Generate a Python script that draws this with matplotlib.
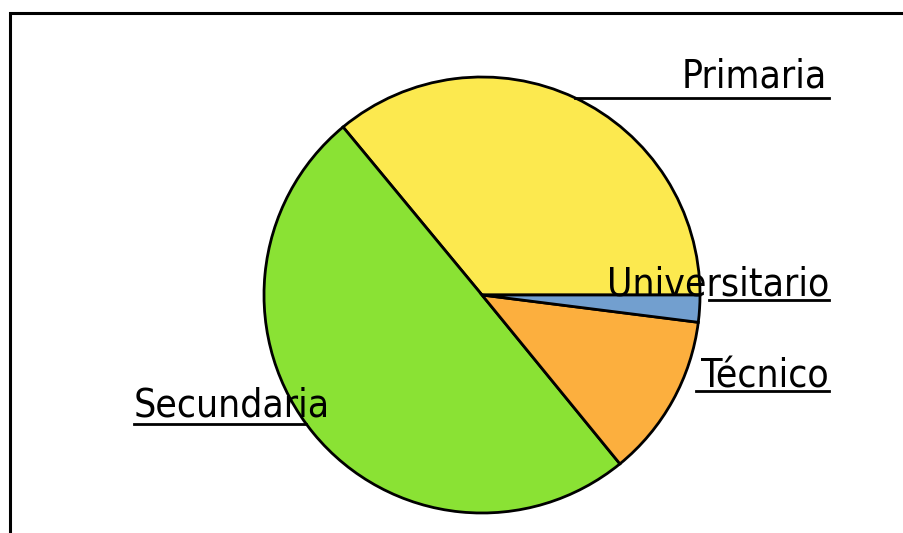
import matplotlib
matplotlib.use("Agg")
import matplotlib.pyplot as plt

labels = ["Primaria", "Secundaria", "Técnico", "Universitario"]
values = [36.0, 49.9, 12.1, 2.0]
colors = ["#FCE94F", "#8AE234", "#FCAF3E", "#729FCF"]

W, H = 904, 533
fig = plt.figure(figsize=(W / 100, H / 100), dpi=100)
ax = fig.add_axes([0, 0, 1, 1])
ax.set_xlim(0, W)
ax.set_ylim(0, H)
ax.set_aspect("equal")
ax.axis("off")

def Y(py):
    return H - py

# outer frame (extends beyond right/bottom)
ax.plot([10.5, 10.5, W + 5], [-5, Y(12.5), Y(12.5)], color="black", lw=2.2,
        solid_joinstyle="miter", zorder=1)

ax.pie(values, colors=colors, startangle=0, counterclock=True,
       center=(482, Y(295)), radius=218, frame=True,
       wedgeprops=dict(edgecolor="black", linewidth=2.0))
ax.set_xlim(0, W)
ax.set_ylim(0, H)
ax.axis("off")

font = dict(family="DejaVu Sans", fontstretch="condensed", fontsize=28, color="black", zorder=5)

# label text, underline segments (pixel coords)
lab_specs = {
    "Primaria": dict(x=827, y=87, ha="right", ul=(575, 829, 98.3)),
    "Secundaria": dict(x=134, y=416.7, ha="left", ul=(134, 306, 424)),
    "Técnico": dict(x=829, y=387, ha="right", ul=(696, 829, 390.7)),
    "Universitario": dict(x=829, y=295, ha="right", ul=(709, 829, 300)),
}
for name in labels:
    s = lab_specs[name]
    ax.text(s["x"], Y(s["y"]), name, ha=s["ha"], va="baseline", **font)
    x0, x1, uy = s["ul"]
    ax.plot([x0, x1], [Y(uy), Y(uy)], color="black", lw=2.0, zorder=4)

fig.savefig("out.png", dpi=100, facecolor="white")
